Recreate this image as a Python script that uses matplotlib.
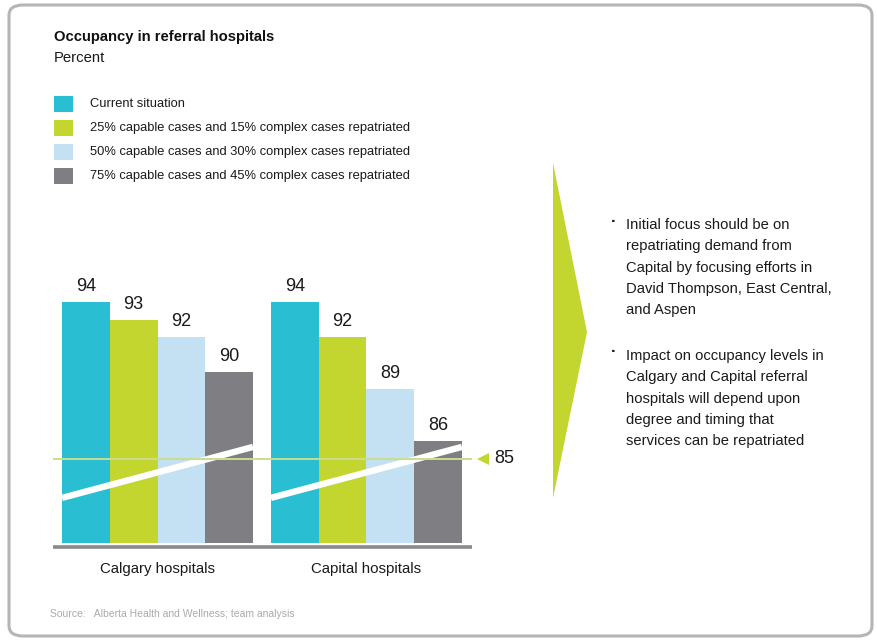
import matplotlib
matplotlib.use("Agg")
import matplotlib.pyplot as plt
from matplotlib.patches import Polygon, FancyBboxPatch, Rectangle
import matplotlib.transforms as mtransforms

plt.rcParams['font.family'] = ['Liberation Sans Narrow', 'Liberation Sans', 'DejaVu Sans']

# ---- data ----
groups = ["Calgary hospitals", "Capital hospitals"]
scenarios = [
    "Current situation",
    "25% capable cases and 15% complex cases repatriated",
    "50% capable cases and 30% complex cases repatriated",
    "75% capable cases and 45% complex cases repatriated",
]
calgary = [94, 93, 92, 90]
capital = [94, 92, 89, 86]
target = 85
colors = ["#29BED2", "#C2D62F", "#C3E1F3", "#7E7E83"]
bullets = [
    "Initial focus should be on\nrepatriating demand from\nCapital by focusing efforts in\nDavid Thompson, East Central,\nand Aspen",
    "Impact on occupancy levels in\nCalgary and Capital referral\nhospitals will depend upon\ndegree and timing that\nservices can be repatriated",
]
source = "Source:   Alberta Health and Wellness; team analysis"

W, H = 877, 641
fig = plt.figure(figsize=(W / 100, H / 100), dpi=100)

def fx(px):
    return px / W

def fy(py):
    return 1 - py / H

# rounded frame
frame = FancyBboxPatch((fx(9), fy(636)), fx(863), 631 / H,
                       boxstyle="round,pad=0,rounding_size=0.016",
                       transform=fig.transFigure, fill=False,
                       edgecolor="#B5B5B9", linewidth=2.2)
fig.patches.append(frame)

# ---- bar axes (truncated value axis) ----
ax = fig.add_axes([fx(53), fy(549), fx(472) - fx(53), (549 - 260) / H])
base = 80.16
ax.set_ylim(79.81, 96.43)
gap = 0.377
xs_cal = [i for i in range(4)]
xs_cap = [4 + gap + i for i in range(4)]
ax.set_xlim(-0.69, 8.09)

for xs, vals in ((xs_cal, calgary), (xs_cap, capital)):
    for x, v, c in zip(xs, vals, colors):
        ax.bar(x, v - base, bottom=base, width=1.0, color=c, linewidth=0, zorder=2)
        ax.annotate(f"{v}", (x, v), xytext=(0, 5), textcoords="offset points",
                    ha="center", va="bottom", fontsize=13, color="#1a1a1a")

# axis-break slashes across each group
for xs in (xs_cal, xs_cap):
    ax.plot([xs[0] - 0.5, xs[-1] + 0.5], [82.75, 85.68], color="white",
            linewidth=4.6, solid_capstyle="butt", zorder=3)

# target line with marker and label
ax.axhline(target, color="#C9DE8C", linewidth=1.4, zorder=4)
trans = mtransforms.blended_transform_factory(ax.transAxes, ax.transData)
ax.plot([1.027], [target], marker="<", markersize=9, color="#C2D62F",
        transform=trans, clip_on=False, zorder=5, markeredgewidth=0)
ax.text(1.052, target, f"{target}", transform=trans, ha="left", va="center",
        fontsize=13, color="#1a1a1a")

# category axis line
ax.axhline(79.95, color="#8A8A8E", linewidth=2.6, zorder=2, clip_on=False,
           solid_capstyle="butt")
ax.set_xticks([sum(xs_cal) / 4, sum(xs_cap) / 4])
ax.set_xticklabels(groups, fontsize=10.8, color="#1a1a1a")
ax.tick_params(axis="x", length=0, pad=9)
ax.set_yticks([])
for s in ax.spines.values():
    s.set_visible(False)
ax.patch.set_alpha(0)

# ---- titles ----
fig.text(fx(54), fy(37), "Occupancy in referral hospitals", fontsize=10.6,
         fontweight="bold", va="center", ha="left", color="#111111")
fig.text(fx(54), fy(58), "Percent", fontsize=10.7, va="center", ha="left",
         color="#1a1a1a")

# ---- legend ----
for i, (lab, c) in enumerate(zip(scenarios, colors)):
    yc = 104 + 24 * i
    fig.patches.append(Rectangle((fx(54), fy(yc + 8)), fx(19), 16 / H,
                                 transform=fig.transFigure, color=c, linewidth=0))
    fig.text(fx(90), fy(yc), lab, fontsize=9.3, va="center", ha="left",
             color="#1a1a1a")

# ---- chevron ----
fig.patches.append(Polygon([(fx(553), fy(163)), (fx(587), fy(332)),
                            (fx(553), fy(498))], closed=True,
                           transform=fig.transFigure, color="#C2D62F",
                           linewidth=0))

# ---- commentary ----
for top, txt in zip((224, 355), bullets):
    fig.text(fx(611), fy(top - 3), "\u00b7", fontsize=12, fontweight="bold",
             va="center", ha="left", color="#1a1a1a")
    fig.text(fx(626), fy(top - 6), txt, fontsize=10.6, va="top", ha="left",
             linespacing=1.67, color="#1a1a1a")

fig.text(fx(50), fy(614), source, fontsize=7.5, va="center", ha="left",
         color="#AAAAAA")

fig.savefig("out.png", dpi=100)
